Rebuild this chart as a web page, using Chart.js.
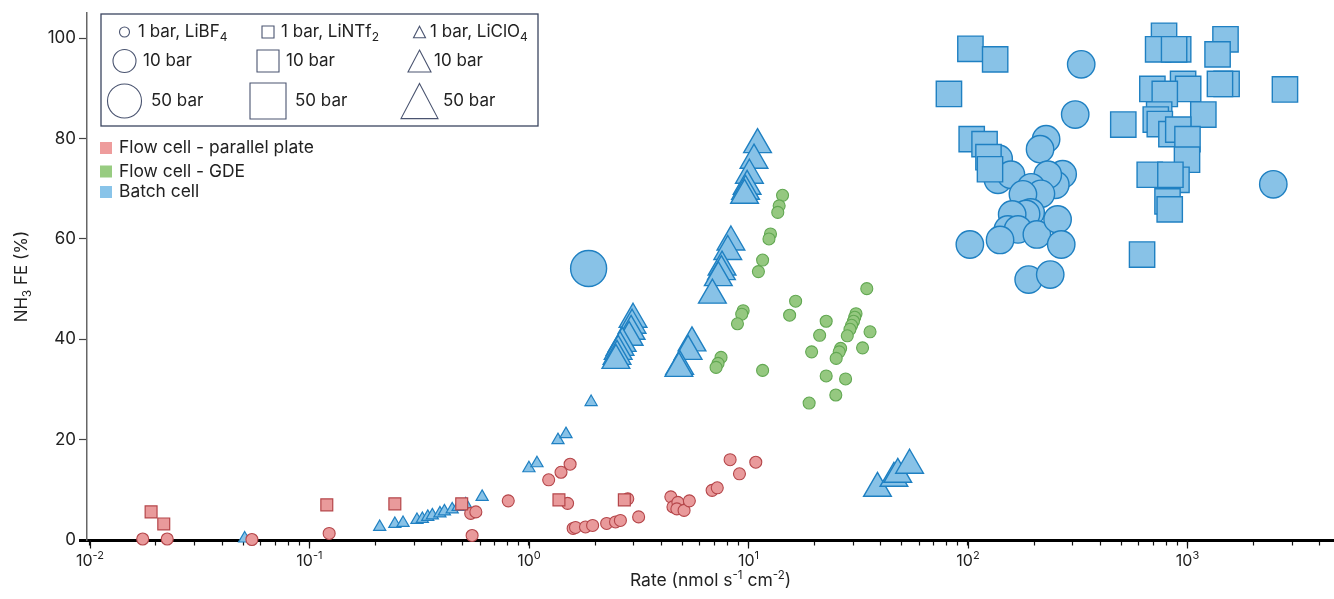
<!DOCTYPE html>
<html>
<head>
<meta charset="utf-8">
<script src="https://cdn.jsdelivr.net/npm/chart.js@4.4.0/dist/chart.umd.min.js"></script>
<style>
  html, body { margin: 0; padding: 0; background: #fff; overflow: hidden; }
  #wrap { width: 1334px; height: 599px; position: relative; }
  canvas { display: block; }
</style>
</head>
<body>
<div id="wrap"><canvas id="feChart"></canvas></div>
<script>
// Flow cell - parallel plate, LiBF4 (circles, 1 bar)
var ppCircleRate = [0.0174, 0.0225, 0.0547, 0.123, 0.543, 0.573, 0.551, 0.805, 1.23, 1.40, 1.54, 1.50, 1.59, 1.63,
	1.81, 1.95, 2.26, 2.48, 2.61, 3.16, 2.82, 4.43, 4.53, 4.77, 4.72, 5.09, 5.38, 6.83, 7.21, 8.25, 9.1, 10.8];
var ppCircleFE = [0.2, 0.2, 0.1, 1.3, 5.3, 5.6, 0.9, 7.8, 12.0, 13.5, 15.1, 7.3, 2.3, 2.5,
	2.6, 2.9, 3.3, 3.6, 3.9, 4.6, 8.2, 8.6, 6.6, 7.5, 6.2, 5.9, 7.8, 9.9, 10.4, 16.0, 13.2, 15.5];
// Flow cell - parallel plate, LiNTf2 (squares, 1 bar)
var ppSquareRate = [0.019, 0.0217, 0.12, 0.245, 0.494, 1.37, 2.72];
var ppSquareFE = [5.6, 3.2, 7.0, 7.2, 7.2, 8.0, 8.0];
// Flow cell - GDE, LiBF4 (circles, 1 bar)
var gdeRate = [14.3, 13.8, 13.6, 12.6, 12.4, 11.6, 11.1, 9.46, 9.32, 8.91, 7.50, 7.27, 7.12, 11.6, 16.4, 15.4,
	22.6, 21.1, 19.4, 22.6, 25.0, 18.9, 27.7, 34.6, 35.8, 33.1, 30.9, 30.5, 30.1, 29.5, 29.0, 28.2, 26.3, 25.9, 25.1];
var gdeFE = [68.7, 66.6, 65.3, 61.0, 60.0, 55.8, 53.5, 45.7, 45.0, 43.1, 36.4, 35.2, 34.4, 33.8, 47.6, 44.8,
	43.6, 40.8, 37.5, 32.7, 28.9, 27.3, 32.1, 50.1, 41.5, 38.3, 45.1, 44.4, 43.6, 42.8, 42.0, 40.7, 38.2, 37.5, 36.2];
// Batch cell, LiClO4 (triangles, 1 bar)
var batchTriSmallRate = [0.0507, 0.209, 0.245, 0.267, 0.309, 0.327, 0.346, 0.363, 0.393, 0.412, 0.447, 0.476,
	0.515, 0.612, 1.0, 1.088, 1.356, 1.475, 1.92];
var batchTriSmallFE = [0.3, 2.6, 3.2, 3.4, 4.0, 4.2, 4.6, 4.9, 5.3, 5.7, 6.1, 6.6, 7.1, 8.6, 14.3, 15.3, 19.9, 21.1, 27.5];
// Batch cell, LiClO4 (triangles, high pressure)
var batchTriRate = [11.0, 10.6, 10.1, 9.86, 9.7, 9.6, 8.32, 8.05, 7.58, 7.53, 7.29, 6.85, 5.53, 5.31, 4.86, 4.82,
	2.98, 2.95, 2.92, 2.86, 2.66, 2.60, 2.55, 2.52, 2.49, 38.7, 46, 47.9, 54.2];
var batchTriFE = [78.8, 75.7, 72.7, 70.5, 69.5, 68.7, 59.4, 57.5, 54.4, 53.5, 52.3, 48.8, 39.3, 37.6, 34.6, 34.2,
	44.0, 42.8, 41.6, 40.4, 39.2, 38.4, 37.6, 36.6, 35.8, 10.3, 12.3, 13.1, 14.9];
// Batch cell, LiNTf2 (squares, high pressure)
var batchSquareRate = [102.6, 133, 81.9, 104, 119, 124, 126, 510, 621, 2780, 782, 735, 907, 869, 1490, 1371, 1507,
	1406, 692, 955, 1007, 788, 743, 717, 748, 1181, 845, 908, 1000, 995, 673, 891, 836, 811, 830];
var batchSquareFE = [97.9, 95.8, 88.9, 79.9, 78.9, 76.3, 73.9, 82.8, 56.9, 89.8, 100.5, 97.8, 97.8, 97.8, 99.8, 96.8, 90.9,
	90.9, 89.9, 90.9, 89.9, 88.9, 84.8, 83.8, 82.9, 84.8, 80.9, 81.8, 79.9, 75.8, 72.8, 71.8, 72.8, 67.5, 65.9];
// Batch cell, LiBF4 (circles), pressure in bar per point
var batchCircleRate = [1.87, 328, 308, 2460, 227, 213, 138, 137, 157, 270, 250, 231, 194, 215, 178, 193, 184, 159,
	152, 169, 206, 256, 266, 140, 102, 189, 237];
var batchCircleFE = [54.1, 94.8, 84.8, 70.9, 79.9, 77.9, 76.0, 71.8, 72.8, 72.9, 70.8, 72.8, 70.3, 69.0, 68.9, 65.3,
	65.0, 64.9, 61.9, 61.9, 60.9, 63.9, 58.9, 59.8, 58.9, 51.9, 52.9];
var batchCircleBar = [50, 20, 20, 20, 20, 20, 20, 20, 20, 20, 20, 20, 20, 20, 20, 20, 20, 20,
	20, 20, 20, 20, 20, 20, 20, 20, 20];

var xDecades = [0.01, 0.1, 1, 10, 100, 1000];
var xTickExps = ['-2', '-1', '0', '1', '2', '3'];
var yTickValues = [0, 20, 40, 60, 80, 100];

var RED = {fill: '#E99A9B', line: '#B5464A'};
var GREEN = {fill: '#95C880', line: '#62A852'};
var BLUE = {fill: '#88C2E7', line: '#1F80C2'};

// marker radius by shape and pressure (bar)
var SIZE = {
	circle: {1: 6, 20: 13.7, 50: 18},
	rect: {1: 8.4, 20: 17.9},
	triangle: {1: 7, 20: 16}
};

function pts(xs, ys) {
	return xs.map(function(x, i) { return {x: x, y: ys[i]}; });
}

function series(label, xs, ys, shape, bars, col, bw) {
	var radii = bars.map(function(b) { return SIZE[shape][b]; });
	return {
		label: label,
		data: pts(xs, ys),
		pointStyle: shape,
		pointRadius: radii,
		pointHoverRadius: radii,
		backgroundColor: col.fill,
		borderColor: col.line,
		pointBorderWidth: bw,
		showLine: false,
		clip: false
	};
}

function same(n, v) {
	var a = [];
	for (var i = 0; i < n; i++) a.push(v);
	return a;
}

var FONT = 'Inter, Roboto, sans-serif';
var LFONT = 'Inter, "Noto Sans", sans-serif';

// x tick marks: decades + minors
function xTickValues() {
	var v = [];
	xDecades.forEach(function(d) {
		for (var k = 1; k <= 9; k++) v.push(d * k);
	});
	return v;
}

// rich text pieces: [text, size, dy]
function richWidth(ctx, parts, family) {
	var w = 0;
	parts.forEach(function(p) {
		ctx.font = p[1] + 'px ' + family;
		w += ctx.measureText(p[0]).width;
	});
	return w;
}
function drawRich(ctx, parts, family, x, y) {
	parts.forEach(function(p) {
		ctx.font = p[1] + 'px ' + family;
		ctx.fillText(p[0], x, y + p[2]);
		x += ctx.measureText(p[0]).width;
	});
	return x;
}

var axisText = {
	id: 'axisText',
	afterDraw: function(chart) {
		var ctx = chart.ctx;
		var xs = chart.scales.x;
		var area = chart.chartArea;
		ctx.save();
		// longer major ticks
		ctx.strokeStyle = '#111';
		ctx.lineWidth = 1.2;
		xDecades.forEach(function(d) {
			var px = Math.round(xs.getPixelForValue(d)) + 0.5;
			ctx.beginPath();
			ctx.moveTo(px, area.bottom);
			ctx.lineTo(px, area.bottom + 8.5);
			ctx.stroke();
		});
		ctx.fillStyle = '#222';
		ctx.textBaseline = 'alphabetic';
		ctx.textAlign = 'left';
		xDecades.forEach(function(d, i) {
			var parts = [['10', 16, 0], [xTickExps[i], 11, -7]];
			var w = richWidth(ctx, parts, FONT);
			drawRich(ctx, parts, FONT, xs.getPixelForValue(d) - w / 2, 566);
		});
		// x title
		var xt = [['Rate (nmol s', 17.5, 0], ['-1', 11.5, -7], [' cm', 17.5, 0], ['-2', 11.5, -7], [')', 17.5, 0]];
		var wx = richWidth(ctx, xt, FONT);
		drawRich(ctx, xt, FONT, (area.left + area.right) / 2 - wx / 2, 586);
		// y title
		var yt = [['NH', 17, 0], ['3', 11.5, 4], [' FE (%)', 17, 0]];
		var wy = richWidth(ctx, yt, FONT);
		ctx.translate(27, (area.top + area.bottom) / 2);
		ctx.rotate(-Math.PI / 2);
		drawRich(ctx, yt, FONT, -wy / 2, 0);
		ctx.restore();
	}
};

function legendShape(ctx, shape, cx, cy, s) {
	ctx.beginPath();
	if (shape === 'circle') {
		ctx.arc(cx, cy, s / 2, 0, Math.PI * 2);
	} else if (shape === 'rect') {
		ctx.rect(cx - s / 2, cy - s / 2, s, s);
	} else {
		var h = s * 0.95;
		ctx.moveTo(cx, cy - h / 2);
		ctx.lineTo(cx + s / 2, cy + h / 2);
		ctx.lineTo(cx - s / 2, cy + h / 2);
		ctx.closePath();
	}
	ctx.fill();
	ctx.stroke();
}

var shapeLegend = {
	id: 'shapeLegend',
	afterDraw: function(chart) {
		var ctx = chart.ctx;
		ctx.save();
		ctx.fillStyle = '#fff';
		ctx.strokeStyle = '#3b4560';
		ctx.lineWidth = 1.3;
		ctx.fillRect(101, 14, 437, 112);
		ctx.strokeRect(101, 14, 437, 112);

		var rows = [
			{y: 32, size: [10, 12, 12], text: [
				[['1 bar, LiBF', 17, 0], ['4', 12, 5]],
				[['1 bar, LiNTf', 17, 0], ['2', 12, 5]],
				[['1 bar, LiClO', 17, 0], ['4', 12, 5]]], tx: [138, 281, 430]},
			{y: 61, size: [23, 22, 23], text: [[['10 bar', 17, 0]], [['10 bar', 17, 0]], [['10 bar', 17, 0]]], tx: [143, 286, 434]},
			{y: 101, size: [34, 36, 37], text: [[['50 bar', 17, 0]], [['50 bar', 17, 0]], [['50 bar', 17, 0]]], tx: [151, 295, 443]}
		];
		var cols = [124.5, 268, 419.5];
		var shapes = ['circle', 'rect', 'triangle'];
		rows.forEach(function(r) {
			for (var i = 0; i < 3; i++) {
				ctx.fillStyle = '#fff';
				ctx.strokeStyle = '#4a5470';
				ctx.lineWidth = 1.1;
				legendShape(ctx, shapes[i], cols[i], r.y, r.size[i]);
				ctx.fillStyle = '#222';
				ctx.textBaseline = 'middle';
				drawRich(ctx, r.text[i], LFONT, r.tx[i], r.y);
			}
		});

		var kinds = [['Flow cell - parallel plate', '#EE9C9C', 148], ['Flow cell - GDE', '#98CC81', 171.5], ['Batch cell', '#89C4E9', 192]];
		kinds.forEach(function(k) {
			ctx.fillStyle = k[1];
			ctx.fillRect(100, k[2] - 6, 12, 12);
			ctx.fillStyle = '#222';
			ctx.font = '17.4px ' + LFONT;
			ctx.textBaseline = 'middle';
			ctx.fillText(k[0], 119, k[2]);
		});
		ctx.restore();
	}
};

var datasets = [
	series('Flow cell - parallel plate, LiNTf2', ppSquareRate, ppSquareFE, 'rect', same(ppSquareRate.length, 1), RED, 1.2),
	series('Flow cell - parallel plate, LiBF4', ppCircleRate, ppCircleFE, 'circle', same(ppCircleRate.length, 1), RED, 1.1),
	series('Flow cell - GDE, LiBF4', gdeRate, gdeFE, 'circle', same(gdeRate.length, 1), GREEN, 1.1),
	series('Batch cell, LiClO4 1 bar', batchTriSmallRate, batchTriSmallFE, 'triangle', same(batchTriSmallRate.length, 1), BLUE, 1.2),
	series('Batch cell, LiClO4', batchTriRate, batchTriFE, 'triangle', same(batchTriRate.length, 20), BLUE, 1.4),
	series('Batch cell, LiNTf2', batchSquareRate, batchSquareFE, 'rect', same(batchSquareRate.length, 20), BLUE, 1.4),
	series('Batch cell, LiBF4', batchCircleRate, batchCircleFE, 'circle', batchCircleBar, BLUE, 1.4)
];

new Chart(document.getElementById('feChart').getContext('2d'), {
	type: 'scatter',
	data: {datasets: datasets},
	options: {
		responsive: true,
		maintainAspectRatio: false,
		animation: false,
		layout: {autoPadding: false, padding: {top: 13, left: 0, right: 0, bottom: 0}},
		plugins: {legend: {display: false}, tooltip: {enabled: false}},
		scales: {
			x: {
				type: 'logarithmic',
				position: 'bottom',
				min: 0.0097,
				max: 4650,
				afterFit: function(s) { s.height = 59; },
				afterBuildTicks: function(s) {
					s.ticks = xTickValues().filter(function(v) { return v >= s.min && v <= s.max; })
						.map(function(v) { return {value: v}; });
				},
				ticks: {display: false},
				grid: {drawOnChartArea: false, drawTicks: true, tickLength: 5.5, tickColor: '#111', tickWidth: 1.2},
				border: {display: true, color: '#000', width: 3}
			},
			y: {
				min: 0,
				max: 105,
				afterFit: function(s) { s.width = 87; },
				afterBuildTicks: function(s) {
					s.ticks = yTickValues.map(function(v) { return {value: v}; });
				},
				ticks: {font: {family: FONT, size: 17}, color: '#222', padding: 3},
				grid: {
					drawOnChartArea: false,
					tickLength: 8,
					tickColor: function(c) { return c.tick && c.tick.value === 0 ? '#000' : '#444'; },
					tickWidth: function(c) { return c.tick && c.tick.value === 0 ? 3 : 1.2; }
				},
				border: {display: true, color: '#666', width: 1.5}
			}
		}
	},
	plugins: [axisText, shapeLegend]
});
</script>
</body>
</html>
